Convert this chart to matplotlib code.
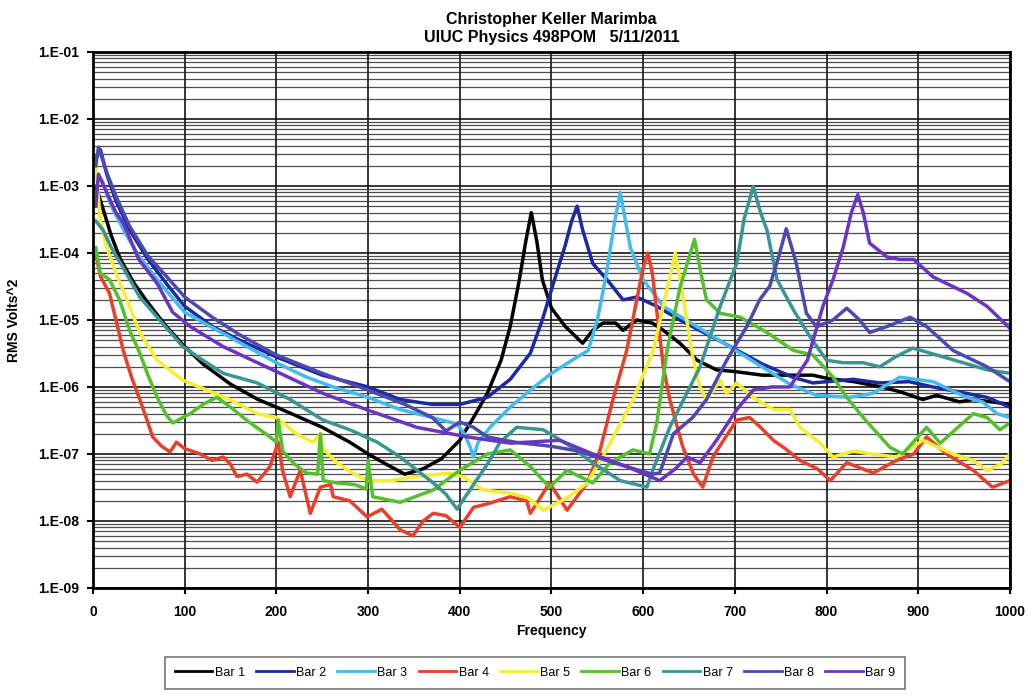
import matplotlib
matplotlib.use("Agg")
import matplotlib.pyplot as plt
from matplotlib.ticker import LogLocator, FixedLocator, NullFormatter

plt.rcParams['font.family'] = ['Liberation Sans', 'DejaVu Sans']

# ---- data (frequency, RMS Volts^2) ----
bar1_f = [3, 10, 20, 30, 45, 60, 80, 100, 120, 150, 180, 200, 220, 250, 280, 300, 320, 340, 360, 380,
          400, 415, 430, 445, 455, 465, 472, 478, 484, 490, 500, 515, 534, 545, 556, 570, 578, 593, 610,
          622, 640, 659, 680, 700, 730, 760, 785, 800, 830, 860, 880, 905, 920, 945, 960, 980, 1000]
bar1_v = [1e-3, 5e-4, 1.8e-4, 8e-5, 3.5e-5, 1.8e-5, 8e-6, 4e-6, 2.2e-6, 1.1e-6, 6.5e-7, 5e-7, 3.8e-7,
          2.5e-7, 1.5e-7, 1e-7, 7e-8, 5e-8, 6e-8, 8.5e-8, 1.6e-7, 3.5e-7, 8e-7, 2.5e-6, 8e-6, 4e-5, 1.5e-4,
          4e-4, 1.5e-4, 4e-5, 1.5e-5, 8e-6, 4.5e-6, 7e-6, 9e-6, 9e-6, 7e-6, 1e-5, 9e-6, 7e-6, 4.5e-6,
          2.5e-6, 1.8e-6, 1.7e-6, 1.5e-6, 1.5e-6, 1.5e-6, 1.35e-6, 1.2e-6, 1e-6, 8.5e-7, 6.5e-7, 7.5e-7,
          6e-7, 6.5e-7, 6e-7, 5.5e-7]

bar2_f = [3, 8, 15, 25, 40, 60, 80, 100, 130, 160, 200, 250, 300, 335, 370, 400, 430, 455, 477, 490,
          502, 515, 522, 528, 534, 545, 564, 578, 593, 615, 640, 687, 730, 763, 785, 829, 858, 890, 916,
          953, 975, 1000]
bar2_v = [2.5e-3, 3.5e-3, 1.5e-3, 6e-4, 2.2e-4, 8e-5, 3.5e-5, 1.6e-5, 8e-6, 5e-6, 2.8e-6, 1.5e-6,
          1e-6, 6.5e-7, 5.5e-7, 5.5e-7, 7e-7, 1.3e-6, 3.2e-6, 1e-5, 3.5e-5, 1.3e-4, 3e-4, 5e-4, 2.2e-4,
          7e-5, 3.5e-5, 2e-5, 2.2e-5, 1.6e-5, 1e-5, 4.6e-6, 2.2e-6, 1.4e-6, 1.15e-6, 1.3e-6, 1.15e-6,
          1.2e-6, 1e-6, 8e-7, 7e-7, 5e-7]

bar3_f = [3, 10, 20, 35, 50, 70, 100, 140, 200, 233, 262, 300, 335, 370, 397, 405, 411, 415, 420, 433,
          455, 477, 500, 528, 540, 550, 560, 568, 575, 586, 600, 622, 659, 687, 735, 760, 789, 825, 850,
          880, 916, 953, 970, 986, 1000]
bar3_v = [1.5e-3, 1.2e-3, 5e-4, 2e-4, 9e-5, 4e-5, 1.3e-5, 6.5e-6, 2.3e-6, 1.4e-6, 1e-6, 7e-7, 4.6e-7,
          3.5e-7, 2.8e-7, 2e-7, 1.3e-7, 9e-8, 1.5e-7, 2.5e-7, 5e-7, 9e-7, 1.6e-6, 2.8e-6, 3.5e-6, 1e-5,
          5e-5, 2.5e-4, 8e-4, 1.2e-4, 4e-5, 1.6e-5, 7.9e-6, 4.6e-6, 1.8e-6, 1.1e-6, 7.5e-7, 7e-7, 8e-7,
          1.4e-6, 1.2e-6, 7e-7, 6e-7, 4e-7, 3.5e-7]

bar4_f = [3, 8, 18, 25, 33, 42, 51, 58, 65, 75, 84, 91, 100, 117, 130, 142, 150, 157, 168, 179, 193,
          202, 207, 215, 226, 237, 248, 259, 262, 280, 299, 315, 335, 349, 360, 371, 385, 400, 415, 430,
          455, 473, 477, 498, 517, 539, 553, 567, 582, 593, 600, 605, 610, 615, 622, 629, 643, 655, 665,
          676, 690, 702, 716, 728, 742, 755, 771, 790, 804, 822, 851, 876, 895, 909, 931, 960, 981, 1000]
bar4_v = [1e-4, 4.5e-5, 2.5e-5, 1e-5, 3.5e-6, 1.4e-6, 6.5e-7, 3.5e-7, 1.8e-7, 1.3e-7, 1.07e-7, 1.5e-7,
          1.2e-7, 1e-7, 8e-8, 9e-8, 7e-8, 4.6e-8, 5e-8, 3.8e-8, 6.5e-8, 1.5e-7, 5.5e-8, 2.3e-8, 5.7e-8,
          1.3e-8, 3.2e-8, 3.5e-8, 2.3e-8, 2e-8, 1.15e-8, 1.5e-8, 7.4e-9, 6e-9, 1e-8, 1.3e-8, 1.2e-8,
          8e-9, 1.6e-8, 1.8e-8, 2.3e-8, 2e-8, 1.3e-8, 3.7e-8, 1.45e-8, 3.7e-8, 1.15e-7, 6.5e-7, 3.5e-6,
          2e-5, 6e-5, 1e-4, 5e-5, 1.3e-5, 2e-6, 6.5e-7, 1.3e-7, 5e-8, 3.2e-8, 9e-8, 1.8e-7, 3.2e-7,
          3.5e-7, 2.5e-7, 1.6e-7, 1.2e-7, 8e-8, 6e-8, 4e-8, 7.4e-8, 5.2e-8, 8e-8, 1e-7, 1.8e-7, 1e-7,
          5.7e-8, 3.2e-8, 4e-8]

bar5_f = [3, 8, 15, 25, 37, 51, 70, 98, 124, 149, 179, 200, 222, 240, 248, 251, 266, 280, 299, 325,
          353, 389, 405, 425, 455, 475, 491, 517, 539, 560, 589, 611, 625, 635, 644, 654, 662, 669, 684,
          691, 702, 720, 742, 760, 771, 793, 807, 829, 850, 876, 905, 938, 960, 975, 990, 1000]
bar5_v = [2e-3, 3e-4, 1.2e-4, 5e-5, 2e-5, 6.5e-6, 2.5e-6, 1.26e-6, 9e-7, 6.5e-7, 4e-7, 3.5e-7, 2e-7,
          1.5e-7, 2e-7, 1.2e-7, 7.4e-8, 5.5e-8, 4e-8, 4e-8, 4.6e-8, 5.2e-8, 4.5e-8, 2.9e-8, 2.6e-8,
          2.2e-8, 1.45e-8, 2.2e-8, 3.7e-8, 1.15e-7, 6.5e-7, 3.5e-6, 2.5e-5, 1e-4, 2e-5, 2.8e-6, 1e-6,
          6.5e-7, 1.26e-6, 8e-7, 1.15e-6, 7e-7, 4.6e-7, 4.6e-7, 2.5e-7, 1.45e-7, 9e-8, 1.1e-7, 1e-7,
          9e-8, 1.6e-7, 1e-7, 8e-8, 5.7e-8, 7e-8, 1e-7]

bar6_f = [3, 8, 18, 29, 40, 51, 60, 70, 80, 87, 106, 120, 135, 150, 170, 193, 200, 202, 207, 220, 233,
          245, 248, 251, 266, 285, 298, 300, 305, 335, 371, 400, 430, 455, 477, 491, 498, 517, 545, 564,
          589, 607, 615, 626, 640, 656, 663, 669, 684, 706, 735, 764, 785, 800, 807, 822, 840, 869, 883,
          909, 924, 960, 975, 989, 1000]
bar6_v = [1.2e-4, 5e-5, 4e-5, 2e-5, 7e-6, 3.2e-6, 1.5e-6, 7e-7, 3.8e-7, 2.9e-7, 4e-7, 5.5e-7, 7e-7,
          5e-7, 3e-7, 1.8e-7, 1.5e-7, 3.2e-7, 1.1e-7, 7e-8, 5.2e-8, 5e-8, 2e-7, 4e-8, 3.7e-8, 3.5e-8,
          3e-8, 8e-8, 2.3e-8, 1.9e-8, 2.9e-8, 5.7e-8, 1e-7, 1.15e-7, 6.5e-8, 4e-8, 3.2e-8, 5.7e-8,
          3.7e-8, 7.4e-8, 1.15e-7, 1e-7, 3e-7, 3.5e-6, 3e-5, 1.6e-4, 5e-5, 2e-5, 1.26e-5, 1.1e-5,
          6.5e-6, 3.5e-6, 3e-6, 1.8e-6, 1.4e-6, 7e-7, 3.5e-7, 1.26e-7, 1e-7, 2.5e-7, 1.45e-7, 4e-7,
          3.5e-7, 2.3e-7, 2.9e-7]

bar7_f = [3, 11, 20, 33, 51, 70, 98, 120, 142, 179, 215, 251, 280, 310, 335, 371, 385, 397, 415, 430,
          444, 462, 491, 517, 545, 575, 604, 611, 629, 662, 684, 702, 710, 720, 728, 735, 746, 764, 782,
          800, 818, 840, 858, 875, 894, 913, 949, 975, 1000]
bar7_v = [3e-4, 2.2e-4, 1.2e-4, 6e-5, 2.2e-5, 1.1e-5, 4e-6, 2.5e-6, 1.6e-6, 1.15e-6, 6.5e-7, 3.2e-7,
          2.3e-7, 1.5e-7, 9e-8, 3.7e-8, 2.5e-8, 1.5e-8, 3.5e-8, 7e-8, 1.5e-7, 2.5e-7, 2.3e-7, 1.4e-7,
          7.4e-8, 4e-8, 3.2e-8, 6e-8, 2.5e-7, 2e-6, 1.6e-5, 7e-5, 3.2e-4, 9.8e-4, 4e-4, 2.2e-4, 4e-5,
          1.4e-5, 5.6e-6, 2.5e-6, 2.3e-6, 2.3e-6, 2e-6, 2.8e-6, 3.8e-6, 3.2e-6, 2.3e-6, 1.8e-6, 1.6e-6]

bar8_f = [3, 6, 15, 25, 40, 60, 80, 100, 130, 160, 200, 250, 300, 340, 370, 385, 400, 415, 430, 460,
          500, 530, 560, 590, 610, 618, 633, 654, 669, 691, 713, 727, 738, 748, 756, 767, 778, 789, 807,
          822, 836, 847, 866, 891, 909, 938, 975, 1000]
bar8_v = [2e-3, 3.8e-3, 1.6e-3, 7e-4, 2.5e-4, 9e-5, 4.5e-5, 2.2e-5, 1.1e-5, 6e-6, 3e-6, 1.6e-6, 9e-7,
          5.5e-7, 3.5e-7, 2.2e-7, 3e-7, 2.5e-7, 1.8e-7, 1.5e-7, 1.3e-7, 1.1e-7, 8e-8, 6e-8, 5e-8, 5.2e-8,
          2e-7, 3.5e-7, 6.5e-7, 2.5e-6, 8e-6, 2e-5, 3.2e-5, 9e-5, 2.3e-4, 7e-5, 1.26e-5, 7.9e-6, 1e-5,
          1.5e-5, 1e-5, 6.5e-6, 8e-6, 1.1e-5, 8e-6, 3.5e-6, 2e-6, 1.2e-6]

bar9_f = [3, 6, 15, 25, 33, 50, 70, 87, 106, 142, 196, 251, 300, 353, 408, 455, 509, 545, 582, 618, 635,
          648, 662, 680, 702, 720, 740, 760, 779, 796, 807, 818, 827, 834, 840, 847, 866, 880, 895, 916,
          953, 975, 1000]
bar9_v = [5e-4, 1.5e-3, 8e-4, 4e-4, 2.8e-4, 8e-5, 3.5e-5, 1.3e-5, 8e-6, 4e-6, 1.8e-6, 8e-7, 4.5e-7,
          2.5e-7, 1.8e-7, 1.45e-7, 1.6e-7, 1e-7, 6.5e-8, 4e-8, 6e-8, 9e-8, 7.4e-8, 1.6e-7, 4.6e-7, 9e-7,
          1e-6, 1e-6, 2.5e-6, 1.6e-5, 4e-5, 1.2e-4, 4e-4, 7.4e-4, 4e-4, 1.4e-4, 8.7e-5, 8e-5, 8e-5,
          4.4e-5, 2.5e-5, 1.6e-5, 7.5e-6]

labels = ['Bar 1', 'Bar 2', 'Bar 3', 'Bar 4', 'Bar 5', 'Bar 6', 'Bar 7', 'Bar 8', 'Bar 9']
colors = ['#000000', '#1c2aa0', '#44bbee', '#e8402a', '#f5ee30', '#55c02e', '#3a9595', '#4a4ab0', '#6a35c0']
series = [(bar1_f, bar1_v), (bar2_f, bar2_v), (bar3_f, bar3_v), (bar4_f, bar4_v), (bar5_f, bar5_v),
          (bar6_f, bar6_v), (bar7_f, bar7_v), (bar8_f, bar8_v), (bar9_f, bar9_v)]

x_ticks = [0, 100, 200, 300, 400, 500, 600, 700, 800, 900, 1000]
y_ticks = [1e-9, 1e-8, 1e-7, 1e-6, 1e-5, 1e-4, 1e-3, 1e-2, 1e-1]
y_ticklabels = ['1.E-09', '1.E-08', '1.E-07', '1.E-06', '1.E-05', '1.E-04', '1.E-03', '1.E-02', '1.E-01']

fig = plt.figure(figsize=(10.31, 6.95), dpi=100)
ax = fig.add_axes([0.0902, 0.154, 0.8894, 0.7712])

for (f, v), lab, c in zip(series, labels, colors):
    ax.plot(f, v, color=c, lw=2.5, label=lab)

ax.set_yscale('log')
ax.set_xlim(0, 1000)
ax.set_ylim(1e-9, 1e-1)

ax.yaxis.set_major_locator(FixedLocator(y_ticks))
ax.set_yticklabels(y_ticklabels)
ax.yaxis.set_minor_locator(LogLocator(base=10, subs=range(2, 10), numticks=100))
ax.yaxis.set_minor_formatter(NullFormatter())
ax.xaxis.set_major_locator(FixedLocator(x_ticks))

ax.grid(True, which='major', axis='both', color='black', lw=1.1)
ax.grid(True, which='minor', axis='y', color='#222222', lw=0.9, alpha=0.8)
ax.set_axisbelow(True)

for s in ax.spines.values():
    s.set_linewidth(2)
    s.set_color('black')

ax.tick_params(axis='y', which='major', length=4, width=1.5, labelsize=10, pad=6)
ax.tick_params(axis='y', which='minor', length=0)
ax.tick_params(axis='x', which='major', length=4, width=1.5, labelsize=10, pad=8)
for lbl in ax.get_xticklabels() + ax.get_yticklabels():
    lbl.set_fontweight('bold')

ax.set_xlabel('Frequency', fontsize=10, fontweight='bold', labelpad=4)
ax.set_ylabel('RMS Volts^2', fontsize=10, fontweight='bold', labelpad=12)
ax.set_title('Christopher Keller Marimba\nUIUC Physics 498POM   5/11/2011',
             fontsize=11.5, fontweight='bold', pad=7, linespacing=1.3)

leg = fig.legend(loc='center', bbox_to_anchor=(0.519, 0.032), ncol=9, fontsize=9,
                 handlelength=3.0, handletextpad=0.2, columnspacing=0.9, frameon=True,
                 fancybox=False, borderpad=0.8, borderaxespad=0.3)
leg.get_frame().set_edgecolor('#555555')
leg.get_frame().set_linewidth(1.2)
for h in leg.get_lines():
    h.set_linewidth(2)

fig.savefig('out.png', dpi=100)
